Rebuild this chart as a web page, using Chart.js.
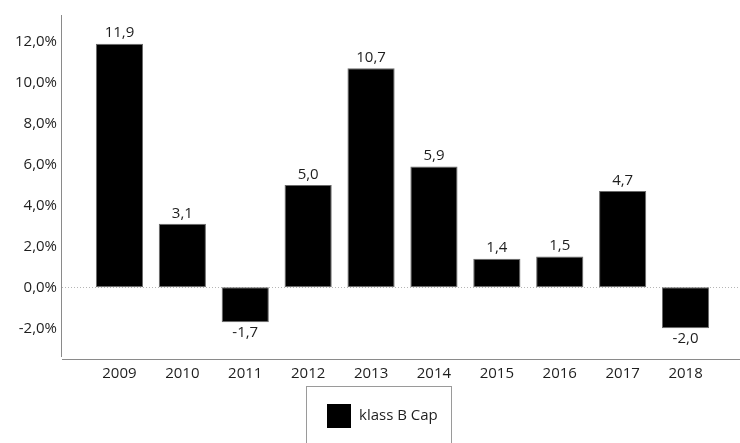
<!DOCTYPE html>
<html>
<head>
<meta charset="utf-8">
<script src="https://cdn.jsdelivr.net/npm/chart.js@4"></script>
<style>
  html, body { margin: 0; padding: 0; background: #fff; }
  #wrap { width: 740px; height: 443px; position: relative; }
</style>
</head>
<body>
<div id="wrap"><canvas id="c" width="740" height="443"></canvas></div>
<script>
const categories = ['2009', '2010', '2011', '2012', '2013', '2014', '2015', '2016', '2017', '2018'];
const seriesLabel = 'klass B Cap';
const seriesValues = [11.9, 3.1, -1.7, 5.0, 10.7, 5.9, 1.4, 1.5, 4.7, -2.0];
const yTicks = [-2, 0, 2, 4, 6, 8, 10, 12];
const yMin = -3.5;
const yMax = 13.3;

const FONT = '"Open Sans", "DejaVu Sans", sans-serif';
const TEXT = '#1e1e1e';
const AXIS = '#8a8a8a';

function fmt(v) { return v.toFixed(1).replace('.', ','); }

const decor = {
  id: 'decor',
  beforeDatasetsDraw(chart) {
    const ctx = chart.ctx;
    const y0 = Math.round(chart.scales.y.getPixelForValue(0)) + 0.5;
    ctx.save();
    ctx.strokeStyle = '#b5b5b5';
    ctx.lineWidth = 1;
    ctx.setLineDash([1, 2]);
    ctx.beginPath();
    ctx.moveTo(62, y0);
    ctx.lineTo(740, y0);
    ctx.stroke();
    ctx.restore();
  },
  afterDatasetsDraw(chart) {
    const ctx = chart.ctx;
    const area = chart.chartArea;
    ctx.save();
    ctx.strokeStyle = AXIS;
    ctx.lineWidth = 1;
    ctx.beginPath();
    ctx.moveTo(61.5, area.top);
    ctx.lineTo(61.5, area.bottom - 2);
    ctx.stroke();
    ctx.beginPath();
    ctx.moveTo(62, Math.round(area.bottom) + 0.5);
    ctx.lineTo(740, Math.round(area.bottom) + 0.5);
    ctx.stroke();
    const meta = chart.getDatasetMeta(0);
    ctx.fillStyle = TEXT;
    ctx.font = '15px ' + FONT;
    ctx.textAlign = 'center';
    meta.data.forEach((bar, i) => {
      const v = chart.data.datasets[0].data[i];
      if (v >= 0) {
        ctx.textBaseline = 'bottom';
        ctx.fillText(fmt(v), bar.x, bar.y - 3);
      } else {
        ctx.textBaseline = 'top';
        ctx.fillText(fmt(v), bar.x, bar.y + 3);
      }
    });
    ctx.strokeStyle = '#9a9a9a';
    ctx.strokeRect(306.5, 386.5, 145, 70);
    ctx.fillStyle = '#000';
    ctx.fillRect(327, 404, 24, 24);
    ctx.fillStyle = TEXT;
    ctx.textAlign = 'left';
    ctx.textBaseline = 'middle';
    ctx.fillText(chart.data.datasets[0].label, 359, 416);
    ctx.restore();
  }
};

new Chart(document.getElementById('c'), {
  type: 'bar',
  data: {
    labels: categories,
    datasets: [{
      label: seriesLabel,
      data: seriesValues,
      backgroundColor: '#000',
      borderColor: '#6a6a6a',
      borderWidth: 1,
      borderSkipped: false,
      barPercentage: 0.75,
      categoryPercentage: 1.0
    }]
  },
  options: {
    responsive: false,
    animation: false,
    devicePixelRatio: 1,
    layout: { padding: { top: 15, right: 23, left: 0, bottom: 0 } },
    plugins: { legend: { display: false }, tooltip: { enabled: false } },
    scales: {
      x: {
        grid: { display: false, drawTicks: false },
        border: { display: false },
        ticks: { color: TEXT, font: { family: FONT, size: 15 }, padding: 6, maxRotation: 0 },
        afterFit(scale) { scale.height = 84; scale.paddingLeft = 0; scale.paddingRight = 0; }
      },
      y: {
        min: yMin,
        max: yMax,
        grid: { display: false, drawTicks: false },
        border: { display: false },
        afterBuildTicks(scale) { scale.ticks = yTicks.map(v => ({ value: v })); },
        ticks: {
          color: TEXT,
          font: { family: FONT, size: 15 },
          padding: 31,
          callback: (v) => fmt(v) + '%'
        },
        afterFit(scale) { scale.width = 88; scale.paddingTop = 0; scale.paddingBottom = 0; }
      }
    }
  },
  plugins: [decor]
});
</script>
</body>
</html>
